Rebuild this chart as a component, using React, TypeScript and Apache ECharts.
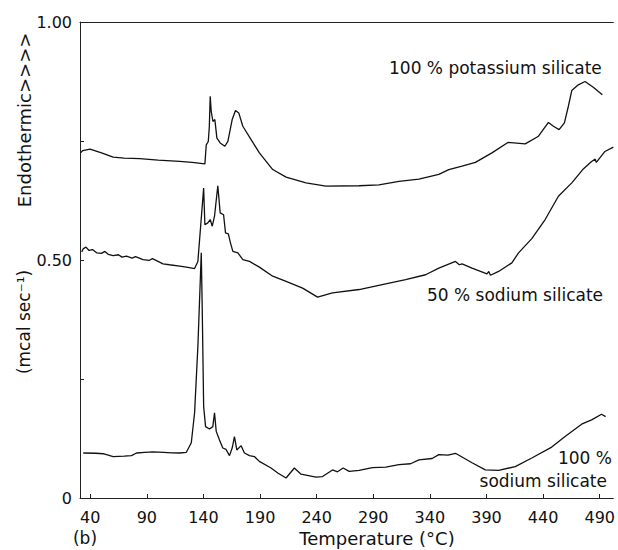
import React, { useEffect, useRef } from "react";
import * as echarts from "echarts";

const xTicks = [40, 90, 140, 190, 240, 290, 340, 390, 440, 490];
const yTicks = [0, 0.25, 0.5, 0.75, 1];
const yLabels = [0, 0.5, 1];

const potassium: [number, number][] = [
  [31.5, 0.725], [33.4, 0.73], [39.8, 0.733], [50, 0.725], [60.3, 0.716], [70, 0.714], [83.8, 0.713],
  [100, 0.71], [119, 0.707], [130, 0.705], [141.3, 0.702], [142.5, 0.742], [144.3, 0.749], [145.2, 0.78],
  [146, 0.844], [146.9, 0.812], [148.4, 0.791], [150.1, 0.795], [151.9, 0.756], [154.8, 0.746],
  [158.9, 0.739], [161.6, 0.749], [165.4, 0.795], [168.3, 0.814], [171.2, 0.809], [174.8, 0.781],
  [182.1, 0.753], [189.4, 0.725], [201.2, 0.69], [213, 0.674], [230.6, 0.662], [248.2, 0.655],
  [277.5, 0.656], [295, 0.658], [312.7, 0.665], [330.3, 0.67], [347.9, 0.68], [356.7, 0.69],
  [368.4, 0.697], [380.2, 0.705], [394.8, 0.725], [408.9, 0.747], [424.2, 0.744], [435.9, 0.76],
  [444.7, 0.789], [449.1, 0.781], [454.1, 0.774], [458.8, 0.788], [462.3, 0.823], [465.3, 0.856],
  [471.1, 0.868], [477, 0.875], [484.3, 0.863], [492.3, 0.847],
];

const sodium50: [number, number][] = [
  [32.5, 0.517], [34, 0.524], [36.3, 0.527], [39, 0.52], [42, 0.522], [45.7, 0.515], [50, 0.514],
  [53, 0.518], [55.9, 0.512], [60.3, 0.509], [65, 0.511], [68, 0.506], [72.1, 0.508], [77, 0.504],
  [80, 0.507], [86.7, 0.501], [92, 0.499], [95, 0.503], [104.3, 0.492], [110, 0.49], [119, 0.487],
  [125, 0.485], [132.2, 0.482], [135.1, 0.497], [140.2, 0.651], [141.3, 0.574], [143.9, 0.578],
  [146, 0.585], [147.8, 0.571], [149.8, 0.592], [152.7, 0.656], [154.8, 0.599], [157.8, 0.595],
  [159.5, 0.557], [162, 0.555], [164, 0.535], [166, 0.518], [170.4, 0.515], [174.8, 0.501],
  [180.7, 0.497], [189.4, 0.485], [201.2, 0.466], [213, 0.455], [227.6, 0.441], [240.8, 0.422],
  [254, 0.431], [277.5, 0.438], [301, 0.45], [318.6, 0.459], [336.2, 0.469], [347.9, 0.483],
  [362.6, 0.497], [366, 0.49], [368.4, 0.492], [377.2, 0.483], [390.4, 0.471], [392, 0.476],
  [393.5, 0.468], [400.7, 0.476], [412.4, 0.494], [418.3, 0.515], [430, 0.545], [441.8, 0.585],
  [453.5, 0.634], [465.3, 0.662], [475, 0.69], [482.8, 0.707], [486, 0.712], [487, 0.705],
  [494.6, 0.728], [502, 0.737],
];

const sodium100: [number, number][] = [
  [33.9, 0.0945], [45, 0.094], [51.5, 0.093], [60.3, 0.087], [70, 0.088], [76.5, 0.089], [80.9, 0.0945],
  [88, 0.096], [95.5, 0.097], [105, 0.096], [112, 0.095], [119, 0.0945], [124.9, 0.096], [129.3, 0.116],
  [132.2, 0.179], [135.1, 0.318], [138.1, 0.515], [139, 0.389], [140.2, 0.192], [141.9, 0.15],
  [145.4, 0.145], [148.3, 0.15], [149.8, 0.179], [151.3, 0.14], [154.2, 0.122], [157.1, 0.105],
  [160, 0.102], [163, 0.089], [165.4, 0.105], [167.4, 0.129], [169.5, 0.101], [173.3, 0.11],
  [176.2, 0.0945], [180.7, 0.089], [185, 0.087], [189.4, 0.077], [199.7, 0.063], [206, 0.052],
  [213, 0.042], [220.3, 0.063], [226.2, 0.05], [239.4, 0.044], [245.2, 0.045], [254, 0.059],
  [258.4, 0.055], [263.4, 0.063], [268.7, 0.056], [277.5, 0.058], [289.2, 0.064], [301, 0.065],
  [312.7, 0.07], [322.9, 0.072], [330.3, 0.08], [342, 0.083], [347.9, 0.091], [356, 0.09],
  [362.6, 0.094], [377.2, 0.074], [389, 0.059], [400.7, 0.058], [415.4, 0.066], [430, 0.084],
  [447.6, 0.107], [459.4, 0.129], [474, 0.155], [482.8, 0.164], [491.6, 0.176], [495.2, 0.171],
];

const FONT = "DejaVu Sans";

export default function App() {
  const ref = useRef<HTMLDivElement>(null);
  useEffect(() => {
    if (!ref.current) return;
    const chart = echarts.init(ref.current, null, { renderer: "svg" });
    const lineSeries = (name: string, data: [number, number][]) => ({
      name,
      type: "line",
      data,
      showSymbol: false,
      symbol: "none",
      lineStyle: { color: "#111", width: 1.3 },
      z: 3,
    });
    const txt = (text: string, x: number, y: number, align = "left", size = 15, rotation = 0) => ({
      type: "text",
      x,
      y,
      rotation,
      style: {
        text,
        fill: "#111",
        font: `${size}px "${FONT}"`,
        textAlign: align,
        textVerticalAlign: "middle",
      },
      z: 10,
    });
    chart.setOption({
      animation: false,
      backgroundColor: "#fff",
      grid: { left: 80, right: 1, top: 22, bottom: 52, containLabel: false },
      xAxis: [
        {
          type: "value",
          min: 31,
          max: 502,
          axisLine: { show: true, lineStyle: { color: "#222", width: 1 } },
          axisTick: { show: true, inside: true, length: 4, customValues: xTicks, lineStyle: { color: "#222" } },
          axisLabel: {
            show: true,
            customValues: xTicks,
            margin: 11,
            color: "#111",
            fontFamily: FONT,
            fontSize: 16,
          },
          splitLine: { show: false },
        },
        {
          type: "value",
          position: "top",
          min: 31,
          max: 502,
          axisLine: { show: true, onZero: false, lineStyle: { color: "#222", width: 1 } },
          axisTick: { show: false },
          axisLabel: { show: false },
          splitLine: { show: false },
        },
      ],
      yAxis: {
        type: "value",
        min: 0,
        max: 1,
        axisLine: { show: true, lineStyle: { color: "#222", width: 1 } },
        axisTick: { show: true, inside: true, length: 4, customValues: yTicks, lineStyle: { color: "#222" } },
        axisLabel: {
          show: true,
          customValues: yLabels,
          margin: 8,
          color: "#111",
          fontFamily: FONT,
          fontSize: 16,
          formatter: (v: number) => (v === 0 ? "0" : v.toFixed(2)),
        },
        splitLine: { show: false },
      },
      series: [
        lineSeries("100 % potassium silicate", potassium),
        lineSeries("50 % sodium silicate", sodium50),
        lineSeries("100 % sodium silicate", sodium100),
      ],
      graphic: [
        txt("100 % potassium silicate", 389, 68, "left", 17),
        txt("50 % sodium silicate", 427, 295, "left", 17),
        txt("100 %", 612, 458, "right", 17),
        txt("sodium silicate", 607, 481, "right", 17),
        txt("Temperature (°C)", 377, 538, "center", 18),
        txt("(b)", 85, 538, "center", 17),
        txt("Endothermic>>>>", 24, 120, "center", 18, Math.PI / 2),
        txt("(mcal sec⁻¹)", 24, 322, "center", 17, Math.PI / 2),
      ],
    });
    return () => chart.dispose();
  }, []);
  return (
    <div
      ref={ref}
      style={{ position: "fixed", left: 0, top: 0, width: 618, height: 550, background: "#fff" }}
    />
  );
}
